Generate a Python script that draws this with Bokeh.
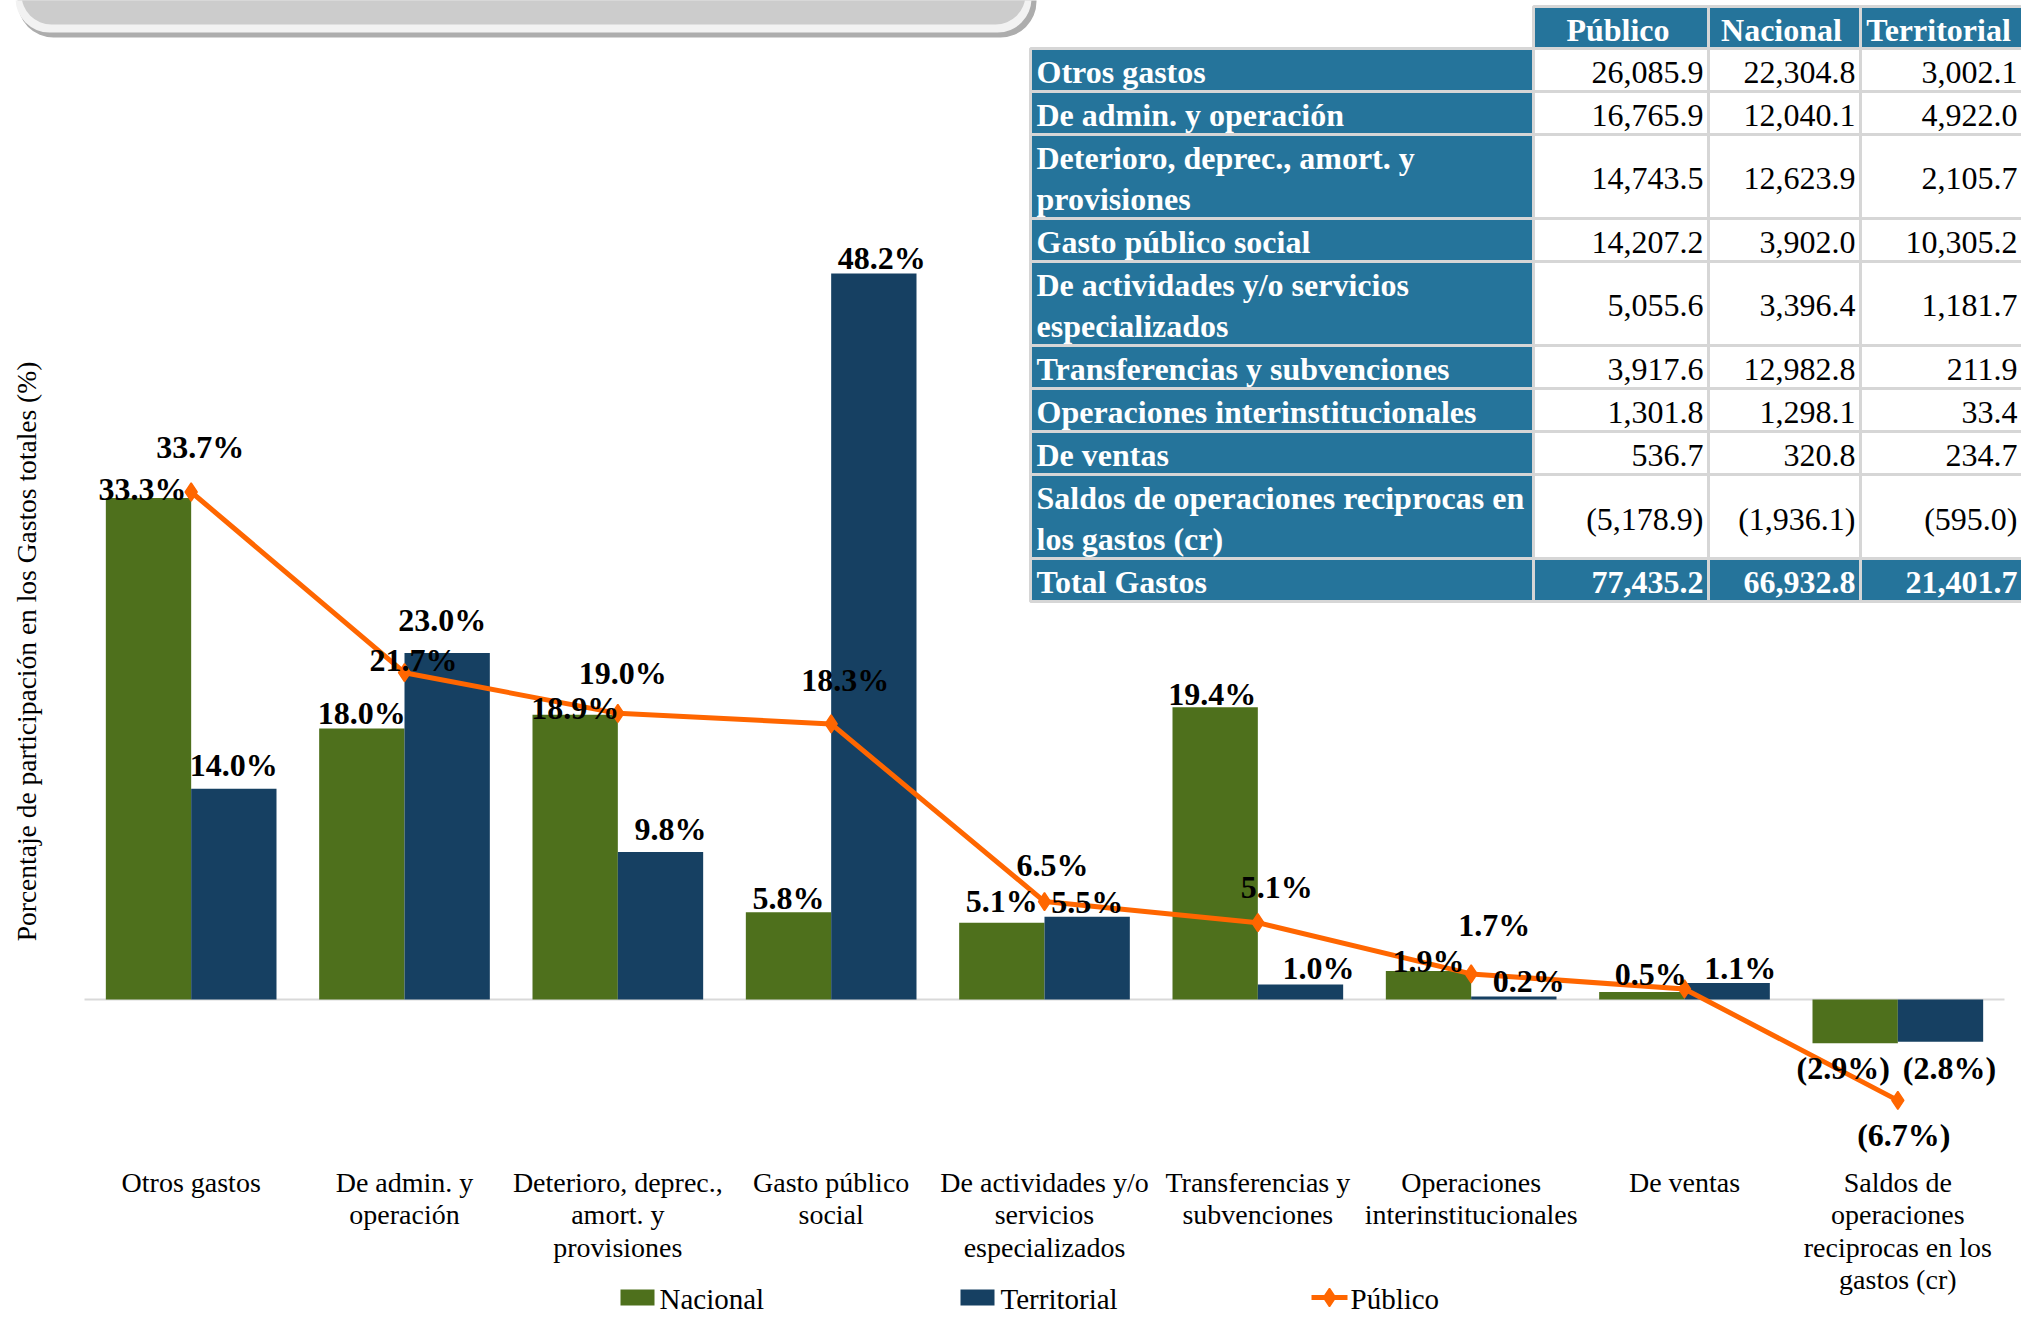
import math
from bokeh.plotting import figure
from bokeh.models import Range1d, BoxAnnotation, ColumnDataSource
from bokeh.core.properties import value
from bokeh.transform import dodge
from bokeh.embed import file_html
from bokeh.resources import INLINE

# ---------------- data ----------------
categories = [
    "Otros gastos", "De admin. y operación", "Deterioro, deprec., amort. y provisiones",
    "Gasto público social", "De actividades y/o servicios especializados",
    "Transferencias y subvenciones", "Operaciones interinstitucionales", "De ventas",
    "Saldos de operaciones reciprocas en los gastos (cr)",
]
category_labels = [
    "Otros gastos", "De admin. y\noperación", "Deterioro, deprec.,\namort. y\nprovisiones",
    "Gasto público\nsocial", "De actividades y/o\nservicios\nespecializados",
    "Transferencias y\nsubvenciones", "Operaciones\ninterinstitucionales", "De ventas",
    "Saldos de\noperaciones\nreciprocas en los\ngastos (cr)",
]
nacional_pct = [33.3, 18.0, 18.9, 5.8, 5.1, 19.4, 1.9, 0.5, -2.9]
territorial_pct = [14.0, 23.0, 9.8, 48.2, 5.5, 1.0, 0.2, 1.1, -2.8]
publico_pct = [33.7, 21.7, 19.0, 18.3, 6.5, 5.1, 1.7, 0.7, -6.7]
publico_label_shown = [True, True, True, True, True, True, True, False, True]
series_names = ["Nacional", "Territorial", "Público"]
y_axis_title = "Porcentaje de participación en los Gastos totales (%)"

table_header = ["Público", "Nacional", "Territorial"]
table_rows = [
    "Otros gastos", "De admin. y operación", "Deterioro, deprec., amort. y\nprovisiones",
    "Gasto público social", "De actividades y/o servicios\nespecializados",
    "Transferencias y subvenciones", "Operaciones interinstitucionales", "De ventas",
    "Saldos de operaciones reciprocas en\nlos gastos (cr)", "Total Gastos",
]
tbl_publico = [26085.9, 16765.9, 14743.5, 14207.2, 5055.6, 3917.6, 1301.8, 536.7, -5178.9, 77435.2]
tbl_nacional = [22304.8, 12040.1, 12623.9, 3902.0, 3396.4, 12982.8, 1298.1, 320.8, -1936.1, 66932.8]
tbl_territorial = [3002.1, 4922.0, 2105.7, 10305.2, 1181.7, 211.9, 33.4, 234.7, -595.0, 21401.7]

# ---------------- style / layout ----------------
FONT = "Liberation Serif"
GREEN = "#4E701C"
NAVY = "#164062"
ORANGE = "#FF6600"
TBL_BLUE = "#25749B"
TBL_LINE = "#D6D6D6"

W, H = 2021, 1317
OX, OY = 0, 0
PLOT_LEFT, PLOT_RIGHT = 84, 2004
BASE_Y = 999
PPP = 15.06
N = len(categories)
CAT_W = (PLOT_RIGHT - PLOT_LEFT) / N


def cat_at(px):
    return (px - PLOT_LEFT) / CAT_W - 0.5


def pct_at(py):
    return (BASE_Y - py) / PPP


p = figure(width=W, height=H, x_range=Range1d(OX, OX + W), y_range=Range1d(OY + H, OY),
           x_axis_location=None, y_axis_location=None, toolbar_location=None,
           output_backend="svg", min_border=0, outline_line_color=None,
           background_fill_color="white", border_fill_color="white")
p.grid.visible = False
p.extra_x_ranges = {"cat": Range1d(cat_at(OX), cat_at(OX + W))}
p.extra_y_ranges = {"pct": Range1d(pct_at(OY + H), pct_at(OY))}

# ---------------- grey title box (top-left) ----------------
for l, r, b, rad, col in [(17, 1036, 37, 36, "#ADADAD"), (15, 1031, 32, 34, "#F2F2F2"),
                          (21, 1025, 24, 30, "#CCCCCC")]:
    p.add_layout(BoxAnnotation(left=l, right=r, top=-60, bottom=b, fill_color=col, fill_alpha=1,
                               line_color=None, border_radius=rad))

# ---------------- table ----------------
TBL_X = [1030, 1533, 1708, 1860, 2022]
HDR_TOP, HDR_BOT = 6, 48
ROW_H1, ROW_H2 = 43, 84
tops, bots = [], []
y = HDR_BOT
for lab in table_rows:
    h = ROW_H2 if "\n" in lab else ROW_H1
    tops.append(y)
    bots.append(y + h)
    y += h

p.quad(left=TBL_X[1:4], right=TBL_X[2:5], top=[HDR_TOP] * 3, bottom=[HDR_BOT] * 3,
       fill_color=TBL_BLUE, line_color=TBL_LINE, line_width=3)
p.quad(left=[TBL_X[0]] * len(table_rows), right=[TBL_X[1]] * len(table_rows), top=tops, bottom=bots,
       fill_color=TBL_BLUE, line_color=TBL_LINE, line_width=3)
nl, nr, nt, nb, nc = [], [], [], [], []
for i in range(len(table_rows)):
    for c in range(3):
        nl.append(TBL_X[c + 1]); nr.append(TBL_X[c + 2]); nt.append(tops[i]); nb.append(bots[i])
        nc.append(TBL_BLUE if i == len(table_rows) - 1 else "white")
p.quad(left=nl, right=nr, top=nt, bottom=nb, fill_color=nc, line_color=TBL_LINE, line_width=3)

TFS = "32px"
mids = [(t + b) / 2 for t, b in zip(tops, bots)]
p.text(x=[(TBL_X[c + 1] + TBL_X[c + 2] - 6) / 2 for c in range(3)], y=[(HDR_TOP + HDR_BOT) / 2 + 2] * 3,
       text=table_header, text_font=value(FONT), text_font_size=TFS, text_font_style="bold",
       text_color="white", text_align="center", text_baseline="middle")
p.text(x=[TBL_X[0] + 6] * len(table_rows), y=[m + 2 for m in mids], text=table_rows,
       text_font=value(FONT), text_font_size=TFS, text_font_style="bold", text_color="white",
       text_align="left", text_baseline="middle", text_line_height=1.12)


def fmt_num(v):
    return f"({abs(v):,.1f})" if v < 0 else f"{v:,.1f}"


cols_vals = [tbl_publico, tbl_nacional, tbl_territorial]
nx, ny, nt_txt, ncol, nsty = [], [], [], [], []
for c in range(3):
    for i, v in enumerate(cols_vals[c]):
        nx.append(TBL_X[c + 2] - 5)
        ny.append(mids[i] + 2)
        nt_txt.append(fmt_num(v))
        last = i == len(table_rows) - 1
        ncol.append("white" if last else "black")
        nsty.append("bold" if last else "normal")
p.text(x=nx, y=ny, text=nt_txt, text_font=value(FONT), text_font_size=TFS, text_font_style=nsty,
       text_color=ncol, text_align="right", text_baseline="middle")

# ---------------- chart ----------------
idx = list(range(N))
src = ColumnDataSource(dict(idx=idx, nac=nacional_pct, ter=territorial_pct, pub=publico_pct))

p.segment(x0=[-0.5], x1=[N - 0.5], y0=[0], y1=[0], x_range_name="cat", y_range_name="pct",
          line_color="#D9D9D9", line_width=2)
p.vbar(x=dodge("idx", -0.2), top="nac", bottom=0, width=0.4, source=src, x_range_name="cat",
       y_range_name="pct", fill_color=GREEN, line_color=None)
p.vbar(x=dodge("idx", 0.2), top="ter", bottom=0, width=0.4, source=src, x_range_name="cat",
       y_range_name="pct", fill_color=NAVY, line_color=None)
p.line(x="idx", y="pub", source=src, x_range_name="cat", y_range_name="pct",
       line_color=ORANGE, line_width=5)
p.scatter(x="idx", y="pub", source=src, x_range_name="cat", y_range_name="pct",
          marker="diamond", size=18, fill_color=ORANGE, line_color=ORANGE, line_width=1.5)


def fmt_pct(v):
    return f"({abs(v):.1f}%)" if v < 0 else f"{v:.1f}%"


# label offsets in pixels (visual centre distance from value end, x shift)
nac_dy = [8, 14, 6, 13, 21, 12, 9, 17, 26]
nac_dx = [-6, 0, 0, 0, 0, -3, 0, 9, -12]
ter_dy = [23, 32, 22, 15, 14, 15, 14, 14, 27]
ter_dx = [0, -5, 10, 8, 0, 18, 15, 13, 9]
pub_dy = [44, 12, 39, 43, 36, 35, 48, 0, 36]
pub_dx = [9, 9, 5, 14, 8, 19, 23, 0, 6]
BASE_ADJ = -1  # 'middle' baseline correction in px


def lab_pos(vals, shift, dys, dxs):
    xs, ys = [], []
    for i, v in enumerate(vals):
        s = 1 if v >= 0 else -1
        ys.append(v + (s * dys[i] - BASE_ADJ) / PPP)
        xs.append(i + shift + dxs[i] / CAT_W)
    return xs, ys


LFS = "32px"
for vals, shift, dys, dxs, shown in [
    (nacional_pct, -0.2, nac_dy, nac_dx, [True] * N),
    (territorial_pct, 0.2, ter_dy, ter_dx, [True] * N),
    (publico_pct, 0.0, pub_dy, pub_dx, publico_label_shown),
]:
    xs, ys = lab_pos(vals, shift, dys, dxs)
    txt = [fmt_pct(v) if sh else "" for v, sh in zip(vals, shown)]
    p.text(x=xs, y=ys, text=txt, x_range_name="cat", y_range_name="pct",
           text_font=value(FONT), text_font_size=LFS, text_font_style="bold", text_color="black",
           text_align="center", text_baseline="middle")

# category labels
CAT_LABEL_TOP = 1166
p.text(x=idx, y=[pct_at(CAT_LABEL_TOP)] * N, text=category_labels, x_range_name="cat",
       y_range_name="pct", text_font=value(FONT), text_font_size="28px", text_color="black",
       text_align="center", text_baseline="top", text_line_height=1.05)

# y axis title
p.text(x=[26], y=[651], text=[y_axis_title], angle=math.pi / 2, text_font=value(FONT),
       text_font_size="27.5px", text_color="black", text_align="center", text_baseline="middle")

# legend
LEG_Y = 1297
p.quad(left=[620, 960], right=[654, 994], top=[LEG_Y - 8] * 2, bottom=[LEG_Y + 8] * 2,
       fill_color=[GREEN, NAVY], line_color=None)
p.segment(x0=[1311], x1=[1347], y0=[LEG_Y], y1=[LEG_Y], line_color=ORANGE, line_width=5)
p.scatter(x=[1329], y=[LEG_Y], marker="diamond", size=18, fill_color=ORANGE, line_color=ORANGE,
          line_width=1.5)
p.text(x=[659, 1000, 1350], y=[LEG_Y + 1] * 3, text=series_names, text_font=value(FONT),
       text_font_size="29px", text_color="black", text_align="left", text_baseline="middle")

open("out.html", "w").write(file_html(p, INLINE))
